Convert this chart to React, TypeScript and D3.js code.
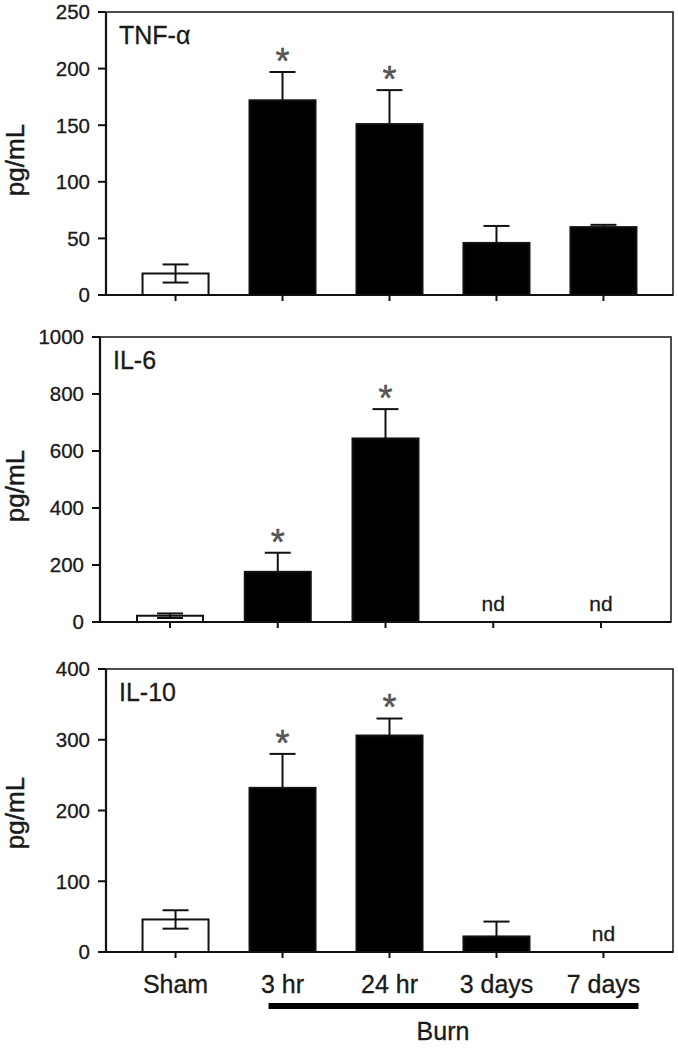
import React from "react";
import * as d3 from "d3";

const categories = ["Sham", "3 hr", "24 hr", "3 days", "7 days"];

const tnfMean: (number | null)[] = [19, 172, 151, 46, 60];
const tnfErr: (number | null)[] = [8, 25, 30, 15, 2];
const tnfSig = [false, true, true, false, false];

const il6Mean: (number | null)[] = [22, 176, 644, null, null];
const il6Err: (number | null)[] = [8, 67, 103, null, null];
const il6Sig = [false, true, true, false, false];

const il10Mean: (number | null)[] = [46, 232, 306, 22, null];
const il10Err: (number | null)[] = [13, 48, 24, 21, null];
const il10Sig = [false, true, true, false, false];

const panelTitles = ["TNF-α", "IL-6", "IL-10"];
const yMaxes = [250, 1000, 400];
const yTickSteps = [50, 200, 100];
const yLabel = "pg/mL";
const groupLabel = "Burn";
const ndLabel = "nd";

const FONT = "'Liberation Sans', Arial, sans-serif";
const INK = "#111";
const TXT = "#1a1a1a";

const panels = [
  { title: panelTitles[0], mean: tnfMean, err: tnfErr, sig: tnfSig, yMax: yMaxes[0], step: yTickSteps[0], box: { l: 106, r: 673, t: 12, b: 295 }, ylab: 160 },
  { title: panelTitles[1], mean: il6Mean, err: il6Err, sig: il6Sig, yMax: yMaxes[1], step: yTickSteps[1], box: { l: 100, r: 671, t: 337, b: 622 }, ylab: 486 },
  { title: panelTitles[2], mean: il10Mean, err: il10Err, sig: il10Sig, yMax: yMaxes[2], step: yTickSteps[2], box: { l: 106, r: 673, t: 669, b: 952 }, ylab: 813 },
];

function Panel({ p, last }: { p: typeof panels[number]; last: boolean }) {
  const { box } = p;
  const x = d3.scalePoint<string>().domain(categories).range([box.l, box.r]).padding(0.65);
  const y = d3.scaleLinear().domain([0, p.yMax]).range([box.b, box.t]);
  const ticks = d3.range(0, p.yMax + 1, p.step);
  const bw = 66;
  const capW = 26;
  return (
    <g>
      <rect x={box.l} y={box.t} width={box.r - box.l} height={box.b - box.t} fill="none" stroke="#222" strokeWidth={1.6} />
      <line x1={box.l} x2={box.l} y1={box.t} y2={box.b} stroke={INK} strokeWidth={2.2} />
      <line x1={box.l} x2={box.r} y1={box.b} y2={box.b} stroke={INK} strokeWidth={2.2} />
      {ticks.map((t) => (
        <g key={t}>
          <line x1={box.l - 8} x2={box.l} y1={y(t)} y2={y(t)} stroke={INK} strokeWidth={2} />
          <text x={box.l - 16} y={y(t)} dy="0.36em" textAnchor="end" fontFamily={FONT} fontSize={20.5} fill={TXT} stroke={TXT} strokeWidth={0.3}>
            {t}
          </text>
        </g>
      ))}
      {categories.map((c) => (
        <line key={c} x1={x(c)} x2={x(c)} y1={box.b} y2={box.b + 6} stroke={INK} strokeWidth={2} />
      ))}
      <text transform={`translate(24,${p.ylab}) rotate(-90)`} textAnchor="middle" fontFamily={FONT} fontSize={26} fill={TXT} stroke={TXT} strokeWidth={0.4}>
        {yLabel}
      </text>
      <text x={box.l + 13} y={box.t + 32} fontFamily={FONT} fontSize={25} fill={TXT} stroke={TXT} strokeWidth={0.3}>
        {p.title}
      </text>
      {categories.map((c, i) => {
        const m = p.mean[i];
        const e = p.err[i];
        const cx = x(c)!;
        if (m == null) {
          return (
            <text key={c} x={cx} y={box.b - 11} textAnchor="middle" fontFamily={FONT} fontSize={21} fill={TXT} stroke={TXT} strokeWidth={0.3}>
              {ndLabel}
            </text>
          );
        }
        const white = i === 0;
        const top = y(m + (e ?? 0));
        return (
          <g key={c}>
            <rect x={cx - bw / 2} y={y(m)} width={bw} height={box.b - y(m)} fill={white ? "#fff" : "#000"} stroke={INK} strokeWidth={2} />
            {e != null && (
              <g stroke={INK} strokeWidth={2}>
                <line x1={cx} x2={cx} y1={white ? y(m - e) : y(m)} y2={top} />
                <line x1={cx - capW / 2} x2={cx + capW / 2} y1={top} y2={top} />
                {white && <line x1={cx - capW / 2} x2={cx + capW / 2} y1={y(m - e)} y2={y(m - e)} />}
              </g>
            )}
            {p.sig[i] && (
              <text x={cx} y={top - 18} dy="0.55em" textAnchor="middle" fontFamily={FONT} fontSize={36} fill="#555" stroke="#555" strokeWidth={0.5}>
                *
              </text>
            )}
          </g>
        );
      })}
      {last && (
        <g>
          {categories.map((c) => (
            <text key={c} x={x(c)} y={box.b + 41} textAnchor="middle" fontFamily={FONT} fontSize={25} fill={TXT} stroke={TXT} strokeWidth={0.3}>
              {c}
            </text>
          ))}
          <rect x={x(categories[1])! - 14} y={box.b + 51} width={x(categories[4])! + 35 - (x(categories[1])! - 14)} height={6} fill="#000" />
          <text x={(x(categories[2])! + x(categories[3])!) / 2} y={box.b + 88} textAnchor="middle" fontFamily={FONT} fontSize={25} fill={TXT} stroke={TXT} strokeWidth={0.3}>
            {groupLabel}
          </text>
        </g>
      )}
    </g>
  );
}

export default function App() {
  return (
    <svg width={678} height={1050} style={{ position: "absolute", left: 0, top: 0, background: "#fff" }}>
      <rect width={678} height={1050} fill="#fff" />
      {panels.map((p, i) => (
        <Panel key={i} p={p} last={i === panels.length - 1} />
      ))}
    </svg>
  );
}
